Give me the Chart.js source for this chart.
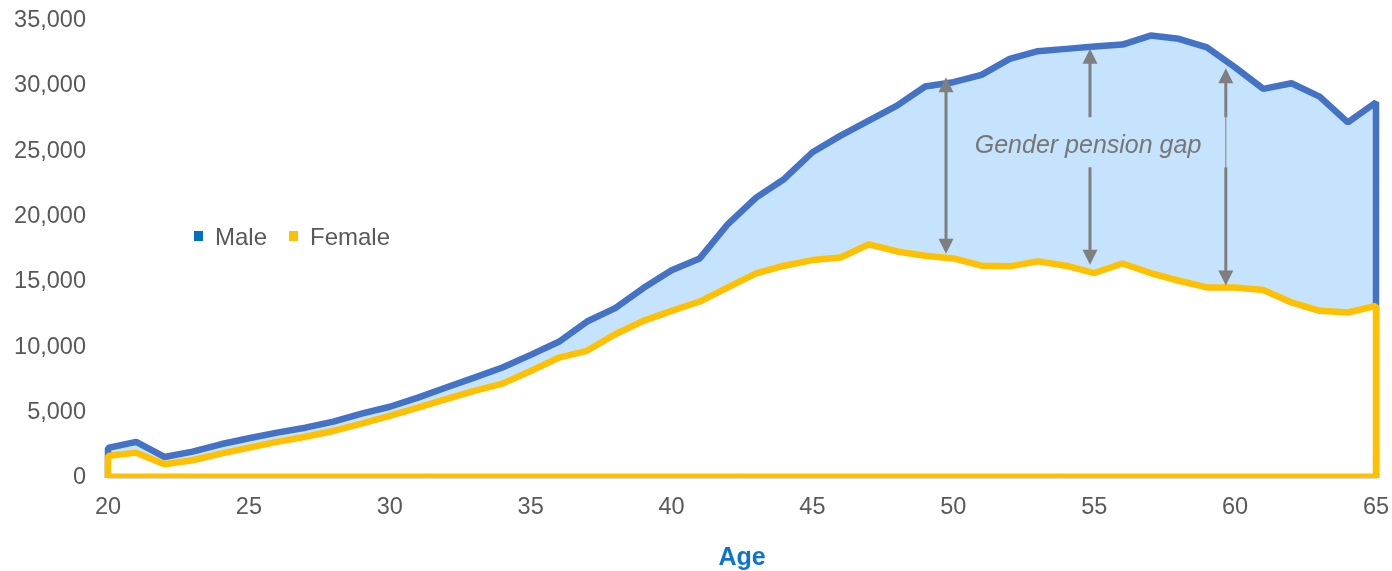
<!DOCTYPE html>
<html>
<head>
<meta charset="utf-8">
<script src="https://cdn.jsdelivr.net/npm/chart.js@4/dist/chart.umd.min.js"></script>
<style>
  html, body { margin: 0; padding: 0; background: #ffffff; }
  #wrap { position: relative; width: 1392px; height: 571px; }
  canvas { display: block; }
</style>
</head>
<body>
<div id="wrap"><canvas id="c" width="1392" height="571"></canvas></div>
<script>
// Average pension income by age
const ages = [20, 21, 22, 23, 24, 25, 26, 27, 28, 29, 30, 31, 32, 33, 34, 35, 36, 37, 38, 39, 40,
              41, 42, 43, 44, 45, 46, 47, 48, 49, 50, 51, 52, 53, 54, 55, 56, 57, 58, 59, 60,
              61, 62, 63, 64, 65];
const maleIncome = [2300, 2760, 1610, 2020, 2580, 3040, 3470, 3850, 4310, 4920, 5450,
                    6150, 6920, 7680, 8450, 9420, 10420, 11970, 13000, 14530, 15900,
                    16800, 19430, 21450, 22880, 24920, 26190, 27340, 28490, 29950, 30280,
                    30840, 32060, 32650, 32830, 33010, 33160, 33850, 33600, 32950, 31420,
                    29770, 30200, 29180, 27210, 28740];
const femaleIncome = [1680, 1940, 1050, 1360, 1870, 2320, 2760, 3160, 3600, 4160, 4750,
                      5390, 6030, 6660, 7220, 8190, 9210, 9730, 11000, 12020, 12790,
                      13500, 14580, 15650, 16240, 16670, 16870, 17870, 17330, 17000, 16800,
                      16240, 16190, 16570, 16240, 15680, 16410, 15680, 15090, 14580, 14580,
                      14380, 13430, 12790, 12660, 13170];
const seriesNames = ['Male', 'Female'];
const xTickValues = [20, 25, 30, 35, 40, 45, 50, 55, 60, 65];
const yTickValues = [0, 5000, 10000, 15000, 20000, 25000, 30000, 35000];
const xAxisTitle = 'Age';

// Gap arrows: age, top value, bottom value, and how the shaft passes the label
const gapArrowAges = [49.74, 54.85, 59.67];
const gapArrowTops = [30660, 32830, 31350];
const gapArrowBottoms = [17160, 16310, 14730];
const gapArrowShaft = ['solid', 'gap', 'thin'];
const gapLabel = 'Gender pension gap';
const gapLabelAge = 54.78;
const gapLabelValue = 24900;
const gapLabelSpan = [23780, 27600];

const COLORS = {
  maleLine: '#4472C4',
  maleFill: '#C5E3FC',
  femaleLine: '#FFC000',
  femaleFill: '#FFFFFF',
  maleKey: '#0070C0',
  femaleKey: '#FFC000',
  text: '#595959',
  arrow: '#7F7F7F',
  label: '#767676',
  axis: '#D9D9D9',
  title: '#0B74D0'
};
const FONT = '"Liberation Sans", Arial, sans-serif';

// Closed area outline: up the left edge, along the series, down the right edge
function areaPoints(values) {
  const pts = ages.map((a, i) => ({ x: a, y: values[i] }));
  return [{ x: ages[0], y: 0 }, ...pts, { x: ages[ages.length - 1], y: 0 }];
}
const baselinePoints = [{ x: ages[0], y: 0 }, { x: ages[ages.length - 1], y: 0 }];

const areaClip = { left: 10, right: 10, top: 10, bottom: 0 };

// Axes keep a fixed footprint; tick-label overflow does not push the plot area
function noOverflow(s) {
  s.paddingTop = 0;
  s.paddingBottom = 0;
  s.paddingLeft = 0;
  s.paddingRight = 0;
}

const gapPlugin = {
  id: 'gapArrows',
  afterDatasetsDraw(chart) {
    const { ctx, scales: { x, y } } = chart;
    ctx.save();
    ctx.strokeStyle = COLORS.arrow;
    ctx.fillStyle = COLORS.arrow;
    const headLen = 15, headHalf = 7.5;
    const spanTop = y.getPixelForValue(gapLabelSpan[1]);
    const spanBot = y.getPixelForValue(gapLabelSpan[0]);
    gapArrowAges.forEach((age, i) => {
      const px = x.getPixelForValue(age);
      const top = y.getPixelForValue(gapArrowTops[i]);
      const bot = y.getPixelForValue(gapArrowBottoms[i]);
      // heads
      ctx.beginPath();
      ctx.moveTo(px, top);
      ctx.lineTo(px - headHalf, top + headLen);
      ctx.lineTo(px + headHalf, top + headLen);
      ctx.closePath();
      ctx.fill();
      ctx.beginPath();
      ctx.moveTo(px, bot);
      ctx.lineTo(px - headHalf, bot - headLen);
      ctx.lineTo(px + headHalf, bot - headLen);
      ctx.closePath();
      ctx.fill();
      // shaft
      ctx.lineWidth = 3;
      ctx.beginPath();
      if (gapArrowShaft[i] === 'solid') {
        ctx.moveTo(px, top + headLen - 1);
        ctx.lineTo(px, bot - headLen + 1);
      } else {
        ctx.moveTo(px, top + headLen - 1);
        ctx.lineTo(px, spanTop);
        ctx.moveTo(px, spanBot);
        ctx.lineTo(px, bot - headLen + 1);
      }
      ctx.stroke();
      if (gapArrowShaft[i] === 'thin') {
        ctx.lineWidth = 1;
        ctx.beginPath();
        ctx.moveTo(px, spanTop);
        ctx.lineTo(px, spanBot);
        ctx.stroke();
      }
    });
    // label
    ctx.font = 'italic 25px ' + FONT;
    ctx.fillStyle = COLORS.label;
    ctx.textAlign = 'center';
    ctx.textBaseline = 'alphabetic';
    ctx.fillText(gapLabel, x.getPixelForValue(gapLabelAge), y.getPixelForValue(gapLabelValue));
    ctx.restore();
  }
};

const keyPlugin = {
  id: 'seriesKey',
  afterDraw(chart) {
    const { ctx } = chart;
    ctx.save();
    ctx.font = '24px ' + FONT;
    ctx.textBaseline = 'alphabetic';
    ctx.textAlign = 'left';
    const keyColors = [COLORS.maleKey, COLORS.femaleKey];
    const keyX = [194, 289];
    seriesNames.forEach((name, i) => {
      ctx.fillStyle = keyColors[i];
      ctx.fillRect(keyX[i], 231, 9, 10);
      ctx.fillStyle = COLORS.text;
      ctx.fillText(name, keyX[i] + 21, 245);
    });
    ctx.restore();
  }
};

new Chart(document.getElementById('c'), {
  type: 'line',
  data: {
    datasets: [
      {
        label: seriesNames[0],
        data: areaPoints(maleIncome),
        borderColor: COLORS.maleLine,
        backgroundColor: COLORS.maleFill,
        borderWidth: 6.5,
        borderJoinStyle: 'bevel',
        fill: 'origin',
        pointRadius: 0,
        tension: 0,
        clip: areaClip,
        order: 3
      },
      {
        label: seriesNames[1],
        data: areaPoints(femaleIncome),
        borderColor: COLORS.femaleLine,
        backgroundColor: COLORS.femaleFill,
        borderWidth: 6.5,
        borderJoinStyle: 'bevel',
        fill: 'origin',
        pointRadius: 0,
        tension: 0,
        clip: areaClip,
        order: 2
      },
      {
        label: seriesNames[1] + ' base',
        data: baselinePoints,
        borderColor: COLORS.femaleLine,
        borderWidth: 9,
        fill: false,
        pointRadius: 0,
        clip: areaClip,
        order: 1
      }
    ]
  },
  options: {
    responsive: false,
    animation: false,
    events: [],
    layout: { autoPadding: false, padding: { left: 0, right: 16, top: 20.5, bottom: 0 } },
    plugins: { legend: { display: false }, tooltip: { enabled: false } },
    scales: {
      x: {
        type: 'linear',
        min: 20,
        max: 65,
        afterBuildTicks: s => { s.ticks = xTickValues.map(v => ({ value: v })); },
        afterFit: s => { s.height = 93; noOverflow(s); },
        grid: { display: false, drawTicks: false },
        border: { display: true, color: COLORS.axis, width: 1, z: 1 },
        ticks: {
          padding: 15,
          color: COLORS.text,
          font: { family: FONT, size: 23.5 },
          maxRotation: 0,
          callback: v => String(v)
        },
        title: {
          display: true,
          text: xAxisTitle,
          color: COLORS.title,
          font: { family: FONT, size: 25, weight: 'bold', lineHeight: 1.04 },
          padding: { top: 0, bottom: 0 }
        }
      },
      y: {
        type: 'linear',
        min: 0,
        max: 35000,
        afterBuildTicks: s => { s.ticks = yTickValues.map(v => ({ value: v })); },
        afterFit: s => { s.width = 108; noOverflow(s); },
        grid: { display: false, drawTicks: false },
        border: { display: false },
        ticks: {
          padding: 22,
          color: COLORS.text,
          font: { family: FONT, size: 23.5 },
          callback: v => v.toLocaleString('en-US')
        }
      }
    }
  },
  plugins: [gapPlugin, keyPlugin]
});
</script>
</body>
</html>
